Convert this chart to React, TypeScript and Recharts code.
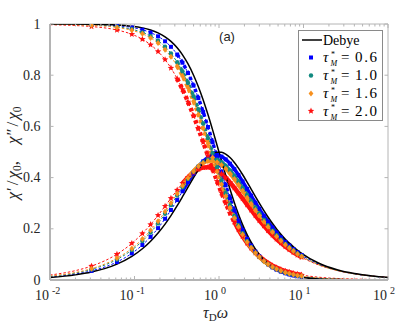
import { ComposedChart, Line, Scatter, XAxis, YAxis, ReferenceLine } from "recharts";

// frequency grid, tau_D * omega
const freq = [0.01, 0.02, 0.031, 0.062, 0.093, 0.124, 0.155, 0.19, 0.23, 0.27, 0.32, 0.37, 0.43, 0.5, 0.57, 0.65, 0.74, 0.84, 0.95, 1.07, 1.2, 1.35, 1.52, 1.7, 1.9, 2.15, 2.4, 2.7, 3.0, 3.4, 3.8, 4.3, 4.8, 5.4, 6.1, 6.8, 7.6, 8.5, 9.5, 15, 25, 40, 65, 100];

// Debye reference
const debyeRe = [0.9999, 0.9996, 0.999, 0.9962, 0.9914, 0.9849, 0.9765, 0.9652, 0.9498, 0.932, 0.9071, 0.8796, 0.844, 0.8, 0.7548, 0.703, 0.6462, 0.5863, 0.5256, 0.4662, 0.4098, 0.3543, 0.3021, 0.2571, 0.2169, 0.1779, 0.1479, 0.1206, 0.1, 0.0796, 0.0648, 0.0513, 0.0416, 0.0332, 0.0262, 0.0212, 0.017, 0.0137, 0.011, 0.0044, 0.0016, 0.0006, 0.0002, 0.0001];
const debyeIm = [0.01, 0.02, 0.031, 0.0618, 0.0922, 0.1221, 0.1514, 0.1834, 0.2184, 0.2516, 0.2903, 0.3255, 0.3629, 0.4, 0.4302, 0.4569, 0.4782, 0.4925, 0.4993, 0.4988, 0.4918, 0.4783, 0.4592, 0.437, 0.4121, 0.3824, 0.355, 0.3257, 0.3, 0.2707, 0.2461, 0.2206, 0.1997, 0.179, 0.1596, 0.1439, 0.1293, 0.116, 0.1041, 0.0664, 0.0399, 0.025, 0.0154, 0.01];

// tau*_M = 0.6
const t06Re = [0.9996, 0.9989, 0.9979, 0.9933, 0.9865, 0.9775, 0.9665, 0.9518, 0.9325, 0.9108, 0.8809, 0.8488, 0.8082, 0.7593, 0.7105, 0.656, 0.5977, 0.538, 0.4788, 0.4222, 0.3696, 0.3185, 0.2713, 0.231, 0.1953, 0.1608, 0.1345, 0.1105, 0.0923, 0.0743, 0.0612, 0.0491, 0.0404, 0.0327, 0.0263, 0.0217, 0.0178, 0.0146, 0.012, 0.0054, 0.0024, 0.0011, 0.0006, 0.0003];
const t06Im = [0.0118, 0.0233, 0.0358, 0.0704, 0.1041, 0.1368, 0.1685, 0.2026, 0.2393, 0.2734, 0.3123, 0.3466, 0.3822, 0.4159, 0.4419, 0.4634, 0.4787, 0.4869, 0.4879, 0.4822, 0.471, 0.4543, 0.433, 0.4098, 0.3848, 0.3557, 0.3296, 0.3019, 0.2779, 0.2508, 0.2281, 0.2047, 0.1854, 0.1665, 0.1487, 0.1343, 0.1209, 0.1087, 0.0977, 0.0628, 0.0381, 0.024, 0.0149, 0.0097];

// tau*_M = 1.0
const t10Re = [0.999, 0.9978, 0.996, 0.9891, 0.9794, 0.9673, 0.9531, 0.9346, 0.911, 0.8852, 0.8506, 0.8143, 0.7697, 0.7176, 0.6669, 0.6117, 0.5541, 0.4964, 0.4404, 0.3876, 0.3393, 0.293, 0.2504, 0.2143, 0.1824, 0.1516, 0.128, 0.1063, 0.0899, 0.0735, 0.0614, 0.0502, 0.042, 0.0346, 0.0284, 0.0239, 0.02, 0.0168, 0.0141, 0.0071, 0.0035, 0.0019, 0.001, 0.0006];
const t10Im = [0.014, 0.0272, 0.0414, 0.0801, 0.1171, 0.1523, 0.1857, 0.2211, 0.2585, 0.2924, 0.33, 0.3623, 0.3944, 0.4235, 0.4446, 0.4606, 0.4703, 0.4732, 0.4697, 0.4605, 0.4467, 0.4284, 0.4066, 0.3837, 0.3596, 0.3321, 0.3076, 0.282, 0.2599, 0.2348, 0.214, 0.1925, 0.1748, 0.1574, 0.141, 0.1276, 0.1152, 0.1038, 0.0935, 0.0607, 0.0373, 0.0238, 0.0149, 0.0098];

// tau*_M = 1.6
const t16Re = [0.9987, 0.9971, 0.9949, 0.9866, 0.9754, 0.9617, 0.9457, 0.9254, 0.8996, 0.8719, 0.8352, 0.7972, 0.751, 0.6978, 0.6466, 0.5916, 0.5347, 0.4783, 0.424, 0.3732, 0.3269, 0.2827, 0.2422, 0.2078, 0.1775, 0.1482, 0.1257, 0.1051, 0.0894, 0.0735, 0.0618, 0.051, 0.0429, 0.0357, 0.0296, 0.0251, 0.0212, 0.0179, 0.0152, 0.0079, 0.004, 0.0022, 0.0013, 0.0008];
const t16Im = [0.0152, 0.0293, 0.0444, 0.0851, 0.1234, 0.1597, 0.1939, 0.2298, 0.2672, 0.3007, 0.3373, 0.3683, 0.3985, 0.4252, 0.444, 0.4574, 0.4647, 0.4654, 0.4601, 0.4496, 0.435, 0.4163, 0.3945, 0.3719, 0.3484, 0.3217, 0.298, 0.2733, 0.2521, 0.228, 0.208, 0.1873, 0.1703, 0.1536, 0.1377, 0.1249, 0.1128, 0.1018, 0.0919, 0.06, 0.037, 0.0237, 0.0149, 0.0099];

// tau*_M = 2.0
const t20Re = [0.9972, 0.994, 0.9901, 0.9765, 0.9598, 0.9405, 0.919, 0.8928, 0.861, 0.8281, 0.7863, 0.7446, 0.6957, 0.6416, 0.5912, 0.5385, 0.4855, 0.4341, 0.3856, 0.3408, 0.3004, 0.2619, 0.2268, 0.197, 0.1706, 0.1449, 0.1249, 0.1064, 0.0921, 0.0775, 0.0664, 0.056, 0.0482, 0.0411, 0.0349, 0.0302, 0.026, 0.0225, 0.0195, 0.0111, 0.0061, 0.0037, 0.0022, 0.0014];
const t20Im = [0.0194, 0.0366, 0.0544, 0.1009, 0.1432, 0.1818, 0.2169, 0.2526, 0.2885, 0.3194, 0.3516, 0.3775, 0.4013, 0.4205, 0.4325, 0.4393, 0.4406, 0.4365, 0.4277, 0.415, 0.3996, 0.3811, 0.3604, 0.3396, 0.3183, 0.2944, 0.2734, 0.2516, 0.2328, 0.2115, 0.1938, 0.1754, 0.1602, 0.1451, 0.1308, 0.1192, 0.1082, 0.0981, 0.0889, 0.0592, 0.0373, 0.0243, 0.0156, 0.0105];

const xTicks = [0.01, 0.02, 0.03, 0.04, 0.05, 0.06, 0.07, 0.08, 0.09, 0.1, 0.2, 0.3, 0.4, 0.5, 0.6, 0.7, 0.8, 0.9, 1, 2, 3, 4, 5, 6, 7, 8, 9, 10, 20, 30, 40, 50, 60, 70, 80, 90, 100];
const yTicks = [0, 0.2, 0.4, 0.6, 0.8, 1];

const W = 407;
const H = 325;
const MARGIN = { top: 24, right: 19, bottom: 15, left: 0 };
const PLOT_TOP = MARGIN.top;
const PLOT_RIGHT = W - MARGIN.right;

const AXIS = "#b4b4b4";
const TEXT = "#262626";
const SERIF = "Liberation Serif, Times New Roman, DejaVu Serif, serif";
const serif = { fontFamily: SERIF };

const BLUE = "#0000ff";
const TEAL = "#128a80";
const ORANGE = "#f7901e";
const RED = "#ff1010";

const pts = (ys: number[]) => freq.map((x, i) => ({ x, y: ys[i] }));
const within = (lo: number, hi: number) => (p: { x: number }) => p.x >= lo && p.x <= hi;
// simulation markers only cover 0.03..10
const marks = (re: number[], im: number[]) => [...pts(re), ...pts(im)].filter(within(0.03, 10));

function starPath(cx: number, cy: number, r: number) {
  let d = "";
  for (let k = 0; k < 10; k++) {
    const rr = k % 2 === 0 ? r : r * 0.45;
    const a = -Math.PI / 2 + (k * Math.PI) / 5;
    d += (k === 0 ? "M" : "L") + (cx + rr * Math.cos(a)).toFixed(2) + "," + (cy + rr * Math.sin(a)).toFixed(2);
  }
  return d + "Z";
}

const square = (p: any) => <rect x={p.cx - 2} y={p.cy - 2} width={4} height={4} fill={BLUE} />;
const circle = (p: any) => <circle cx={p.cx} cy={p.cy} r={2.2} fill={TEAL} />;
const diamond = (p: any) => (
  <path d={`M${p.cx},${p.cy - 3}L${p.cx + 2.4},${p.cy}L${p.cx},${p.cy + 3}L${p.cx - 2.4},${p.cy}Z`} fill={ORANGE} />
);
const star = (p: any) => <path d={starPath(p.cx, p.cy, 3.4)} fill={RED} />;

const series = [
  { label: "0.6", re: t06Re, im: t06Im, color: BLUE, shape: square, band: 3.5 },
  { label: "1.0", re: t10Re, im: t10Im, color: TEAL, shape: circle, band: 3.5 },
  { label: "1.6", re: t16Re, im: t16Im, color: ORANGE, shape: diamond, band: 4 },
  { label: "2.0", re: t20Re, im: t20Im, color: RED, shape: star, band: 4.5 },
];
const drawOrder = [series[0], series[3], series[1], series[2]];

// where the sampled points crowd together they read as a band:
// steep chi' descent -> stacked blobs, flatter parts -> solid band
const bandParts = (s: (typeof series)[number]) => [
  { key: "rs", data: pts(s.re).filter(within(0.3, 1.52)), dash: "3.5 3" },
  { key: "rt", data: pts(s.re).filter(within(1.52, 10)), dash: undefined },
  { key: "i", data: pts(s.im).filter(within(0.37, 10)), dash: undefined },
];

function XTick(props: any) {
  const { x, y, payload } = props;
  const lg = Math.log10(payload.value);
  const exp = Math.round(lg);
  const major = Math.abs(lg - exp) < 1e-6;
  const len = major ? 4 : 2.5;
  return (
    <g>
      <line x1={x} x2={x} y1={y} y2={y - len} stroke={AXIS} />
      <line x1={x} x2={x} y1={PLOT_TOP} y2={PLOT_TOP + len} stroke={AXIS} />
      {major && (
        <text x={x - 15} y={y + 20} fill={TEXT} style={serif} fontSize={14}>
          10
          <tspan dx={3} dy={-6} fontSize={10}>{exp}</tspan>
        </text>
      )}
    </g>
  );
}

function YTick(props: any) {
  const { x, y, payload } = props;
  return (
    <g>
      <line x1={x} x2={x + 3.5} y1={y} y2={y} stroke={AXIS} />
      <line x1={PLOT_RIGHT} x2={PLOT_RIGHT - 3.5} y1={y} y2={y} stroke={AXIS} />
      <text x={x - 9.5} y={y + 4.5} textAnchor="end" fill={TEXT} style={serif} fontSize={14}>
        {payload.value}
      </text>
    </g>
  );
}

function Overlay() {
  const rows = [57.5, 75.5, 93.5, 111];
  return (
    <svg width={W} height={H} style={{ position: "absolute", left: 0, top: 0, pointerEvents: "none" }}>
      {/* y axis label */}
      <text transform="translate(18,153) rotate(-90)" textAnchor="middle" style={serif} fontSize={17} fill={TEXT}>
        <tspan fontStyle="italic">χ</tspan>
        <tspan dx={1}>′</tspan>
        <tspan dx={2}>/</tspan>
        <tspan dx={2} fontStyle="italic">χ</tspan>
        <tspan fontSize={11.5} dy={3}>0</tspan>
        <tspan dy={-3}>,</tspan>
        <tspan dx={17} fontStyle="italic">χ</tspan>
        <tspan dx={1}>″</tspan>
        <tspan dx={2}>/</tspan>
        <tspan dx={2} fontStyle="italic">χ</tspan>
        <tspan fontSize={11.5} dy={3}>0</tspan>
      </text>

      {/* x axis label */}
      <text x={203} y={318} style={serif} fontSize={16} fill={TEXT}>
        <tspan fontStyle="italic">τ</tspan>
        <tspan fontSize={11} dy={3}>D</tspan>
        <tspan fontStyle="italic" dy={-3}>ω</tspan>
      </text>

      <text x={227} y={41} textAnchor="middle" fontFamily="Liberation Sans, Arial, sans-serif" fontSize={13} fill={TEXT}>
        (a)
      </text>

      {/* legend */}
      <rect x={298.5} y={30.5} width={84} height={90} fill="#fff" stroke="#8a8a8a" />
      <line x1={302} x2={322} y1={40} y2={40} stroke="#000" strokeWidth={1.5} />
      <text x={323} y={44.5} style={serif} fontSize={14} fill="#000">
        Debye
      </text>
      {series.map((s, i) => {
        const cy = rows[i];
        return (
          <g key={s.label}>
            {s.shape({ cx: 311, cy })}
            <text x={323} y={cy + 4.5} style={serif} fontSize={15} fontStyle="italic" fill="#000">
              τ
            </text>
            <text x={331} y={cy - 1} style={serif} fontSize={8} fill="#000">
              *
            </text>
            <text x={330.5} y={cy + 8.5} style={serif} fontSize={8} fontStyle="italic" fill="#000">
              M
            </text>
            <text x={341} y={cy + 4.5} style={serif} fontSize={15} fill="#000">
              =
            </text>
            <text x={355} y={cy + 4.5} style={serif} fontSize={15} fill="#000" textLength={22} lengthAdjust="spacing">
              {s.label}
            </text>
          </g>
        );
      })}
    </svg>
  );
}

export default function App() {
  return (
    <div style={{ position: "absolute", left: 0, top: 0, width: W, height: H, background: "#fff" }}>
      <ComposedChart width={W} height={H} margin={MARGIN}>
        <XAxis
          dataKey="x"
          type="number"
          scale="log"
          domain={[0.01, 100]}
          allowDataOverflow
          ticks={xTicks}
          interval={0}
          tickSize={0}
          tickMargin={0}
          tick={<XTick />}
          axisLine={{ stroke: AXIS, strokeWidth: 2 }}
          height={30}
        />
        <YAxis
          dataKey="y"
          type="number"
          domain={[0, 1]}
          allowDataOverflow
          ticks={yTicks}
          interval={0}
          tickSize={0}
          tickMargin={0}
          tick={<YTick />}
          axisLine={{ stroke: AXIS, strokeWidth: 2 }}
          width={50}
        />
        <ReferenceLine y={1} stroke={AXIS} ifOverflow="visible" />
        <ReferenceLine x={100} stroke={AXIS} ifOverflow="visible" />

        {drawOrder.map((s) =>
          bandParts(s).map((b) => (
            <Line
              key={"b" + s.label + b.key}
              data={b.data}
              dataKey="y"
              type="monotone"
              stroke={s.color}
              strokeWidth={s.band}
              strokeDasharray={b.dash}
              dot={false}
              activeDot={false}
              isAnimationActive={false}
            />
          ))
        )}

        {drawOrder.map((s) => (
          <Scatter key={"m" + s.label} data={marks(s.re, s.im)} shape={s.shape} isAnimationActive={false} />
        ))}

        {drawOrder.map((s) =>
          [s.re, s.im].map((ys, j) => (
            <Line
              key={"d" + s.label + j}
              data={pts(ys)}
              dataKey="y"
              type="monotone"
              stroke={s.color}
              strokeDasharray="2.5 2"
              strokeWidth={1}
              dot={false}
              activeDot={false}
              isAnimationActive={false}
            />
          ))
        )}

        <Line data={pts(debyeRe)} dataKey="y" type="monotone" stroke="#000" strokeWidth={1.5} dot={false} activeDot={false} isAnimationActive={false} />
        <Line data={pts(debyeIm)} dataKey="y" type="monotone" stroke="#000" strokeWidth={1.5} dot={false} activeDot={false} isAnimationActive={false} />
      </ComposedChart>
      <Overlay />
    </div>
  );
}
